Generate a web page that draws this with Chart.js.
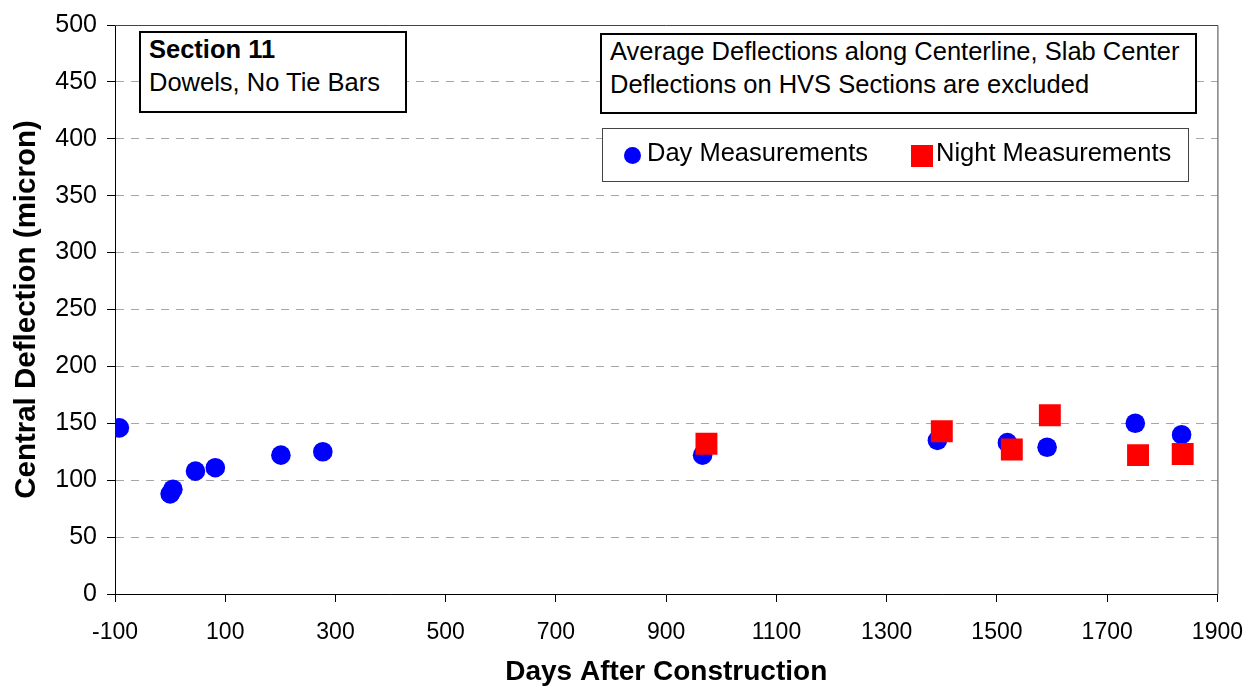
<!DOCTYPE html>
<html>
<head>
<meta charset="utf-8">
<script src="https://cdn.jsdelivr.net/npm/chart.js@4.4.1/dist/chart.umd.min.js"></script>
<style>
  body { margin: 0; background: #fff; }
  #wrap { position: relative; width: 1260px; height: 689px; font-family: "Liberation Sans", Arial, sans-serif; color: #000; }
  .box { position: absolute; background: #fff; box-sizing: border-box; font-size: 25.5px; line-height: 33px; white-space: nowrap; }
  #sect { left: 139px; top: 31px; width: 268px; height: 82px; border: 2px solid #000; padding: 0 0 0 8px; }
  #note { left: 600px; top: 33px; width: 597px; height: 81px; border: 2px solid #000; padding: 0 0 0 8px; }
  #legend { left: 602px; top: 128px; width: 587px; height: 54px; border: 1px solid #444; }
  .lg { position: absolute; top: 7px; }
  .dot { display: inline-block; width: 17px; height: 17px; border-radius: 50%; background: #0000ff; }
  .sq { display: inline-block; width: 22px; height: 22px; background: #ff0000; }
</style>
</head>
<body>
<div id="wrap">
  <canvas id="myChart" width="1260" height="689"></canvas>
  <div class="box" id="sect"><b>Section 11</b><br>Dowels, No Tie Bars</div>
  <div class="box" id="note">Average Deflections along Centerline, Slab Center<br>Deflections on HVS Sections are excluded</div>
  <div class="box" id="legend">
    <span class="dot" style="position:absolute;left:21px;top:18px"></span>
    <span class="lg" style="left:44px">Day Measurements</span>
    <span class="sq" style="position:absolute;left:308px;top:16px"></span>
    <span class="lg" style="left:333px">Night Measurements</span>
  </div>
</div>
<script>
/* dag metingen */
var dayDays = [-92, 0, 5, 46, 82, 201, 277, 966, 1392, 1519, 1591, 1751, 1835];
var dayDefl = [146, 88, 92, 108, 111, 122, 125, 122, 135, 133, 129, 150, 140];

/* nacht metingen */
var nightDays = [973, 1400, 1527, 1596, 1756, 1837];
var nightDefl = [132, 143, 127, 157, 122, 123];

var xMin = -100, xMax = 1900, xStep = 200;
var yMin = 0, yMax = 500, yStep = 50;

function toPoints(xs, ys) {
    var pts = [];
    for (var i = 0; i < xs.length; i++) pts.push({x: xs[i], y: ys[i]});
    return pts;
}

// rand om het plotgebied (boven en rechts)
var frame = {
    id: 'frame',
    afterDraw: function(chart) {
        var a = chart.chartArea, c = chart.ctx;
        c.save();
        c.strokeStyle = '#444';
        c.lineWidth = 1;
        c.beginPath();
        c.moveTo(a.left, a.top + 0.5);
        c.lineTo(a.right + 0.5, a.top + 0.5);
        c.lineTo(a.right + 0.5, a.bottom);
        c.stroke();
        c.restore();
    }
};

var ctx = document.getElementById('myChart').getContext('2d');
var chart = new Chart(ctx, {
    type: 'scatter',
    data: {
        datasets: [{
            label: 'Night Measurements',
            data: toPoints(nightDays, nightDefl),
            pointStyle: 'rect',
            pointRadius: 15.5,
            pointHoverRadius: 15.5,
            backgroundColor: '#ff0000',
            borderWidth: 0
        }, {
            label: 'Day Measurements',
            data: toPoints(dayDays, dayDefl),
            pointStyle: 'circle',
            pointRadius: 9.8,
            pointHoverRadius: 9.8,
            backgroundColor: '#0000ff',
            borderWidth: 0
        }]
    },
    options: {
        responsive: false,
        animation: false,
        layout: { padding: { top: 22, right: 38, left: 0, bottom: 0 } },
        plugins: { legend: { display: false }, tooltip: { enabled: false } },
        scales: {
            x: {
                type: 'linear',
                min: xMin, max: xMax,
                afterFit: function(s) { s.height = 95; },
                ticks: { stepSize: xStep, color: '#000', padding: 17,
                         callback: function(v) { return String(v); },
                         font: { family: 'Liberation Sans', size: 23 } },
                grid: { drawOnChartArea: false, tickLength: 8, tickColor: '#000' },
                border: { color: '#000', width: 1 },
                title: { display: true, text: 'Days After Construction', color: '#000',
                         padding: { top: 0, bottom: 0 },
                         font: { family: 'Liberation Sans', size: 28, weight: 'bold' } }
            },
            y: {
                min: yMin, max: yMax,
                afterFit: function(s) { s.width = 115; },
                ticks: { stepSize: yStep, color: '#000', padding: 10,
                         callback: function(v) { return String(v); },
                         font: { family: 'Liberation Sans', size: 25 } },
                grid: { color: '#a6a6a6', tickLength: 8, tickColor: '#000', tickBorderDash: [] },
                border: { color: '#000', width: 1, dash: [8, 7] },
                title: { display: true, text: 'Central Deflection (micron)', color: '#000',
                         padding: { top: 9, bottom: 0 },
                         font: { family: 'Liberation Sans', size: 29.5, weight: 'bold' } }
            }
        }
    },
    plugins: [frame]
});
</script>
</body>
</html>
